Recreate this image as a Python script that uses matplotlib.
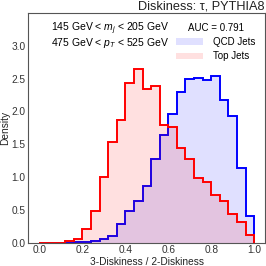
import numpy as np
import matplotlib
matplotlib.use("Agg")
import matplotlib.pyplot as plt
from matplotlib.patches import Patch

plt.rcParams['font.family'] = ['Liberation Sans', 'DejaVu Sans']
plt.rcParams['mathtext.fontset'] = 'custom'
plt.rcParams['mathtext.rm'] = 'Liberation Sans'
plt.rcParams['mathtext.it'] = 'Liberation Sans:italic'

bin_edges = np.round(np.arange(0, 1.0001, 0.04), 2)
top_density = [0.003, 0.003, 0.003, 0.02, 0.05, 0.21, 0.48, 1.0, 1.54, 1.87, 2.44, 2.65, 2.34,
               2.39, 1.80, 1.76, 1.44, 1.28, 0.98, 0.93, 0.73, 0.63, 0.43, 0.31, 0.11]
qcd_density = [0.0, 0.0, 0.0, 0.0, 0.005, 0.005, 0.03, 0.06, 0.10, 0.29, 0.48, 0.64, 0.87,
               1.27, 1.64, 1.96, 2.29, 2.49, 2.51, 2.48, 2.54, 2.18, 1.93, 1.14, 0.41]
x_ticks = [0.0, 0.2, 0.4, 0.6, 0.8, 1.0]
y_ticks = [0.0, 0.5, 1.0, 1.5, 2.0, 2.5, 3.0]

fig = plt.figure(figsize=(2.66, 2.66), dpi=100)
ax = fig.add_axes([28/266, 1-242.7/266, (265-28)/266, (242.7-13)/266])

for vals, col in [(qcd_density, 'blue'), (top_density, 'red')]:
    ax.stairs(vals, bin_edges, fill=True, color=col, alpha=0.12, linewidth=0)
    ax.stairs(vals, bin_edges, color=col, linewidth=1.4)

ax.set_xlim(-0.053, 1.05)
ax.set_ylim(0, 3.5)
ax.set_xticks(x_ticks)
ax.set_yticks(y_ticks)
ax.tick_params(length=0, labelsize=7.3, pad=2, colors='#333333')
for s in ax.spines.values():
    s.set_color('#555555')
    s.set_linewidth(0.8)

ax.set_xlabel('3-Diskiness / 2-Diskiness', fontsize=7.3, labelpad=1, color='#222222')
ax.set_ylabel('Density', fontsize=7.3, labelpad=1, color='#222222')
ax.set_title('Diskiness: τ, PYTHIA8', loc='right', fontsize=9.2, pad=1.5, color='#222222')

ax.text(0.346, 0.968, '145 GeV < $m_j$ < 205 GeV\n475 GeV < $p_T$ < 525 GeV',
        transform=ax.transAxes, ha='center', va='top', fontsize=7.5,
        linespacing=0.88, multialignment='center')

handles = [Patch(facecolor='blue', alpha=0.12, edgecolor='none'),
           Patch(facecolor='red', alpha=0.12, edgecolor='none')]
leg = ax.legend(handles, ['QCD Jets', 'Top Jets'], title='AUC = 0.791', loc='upper right',
                frameon=False, fontsize=7, title_fontsize=7, handlelength=2.8,
                handleheight=0.7, handletextpad=1.0, borderaxespad=0.6, labelspacing=0.45)

fig.savefig('out.png', dpi=100)
